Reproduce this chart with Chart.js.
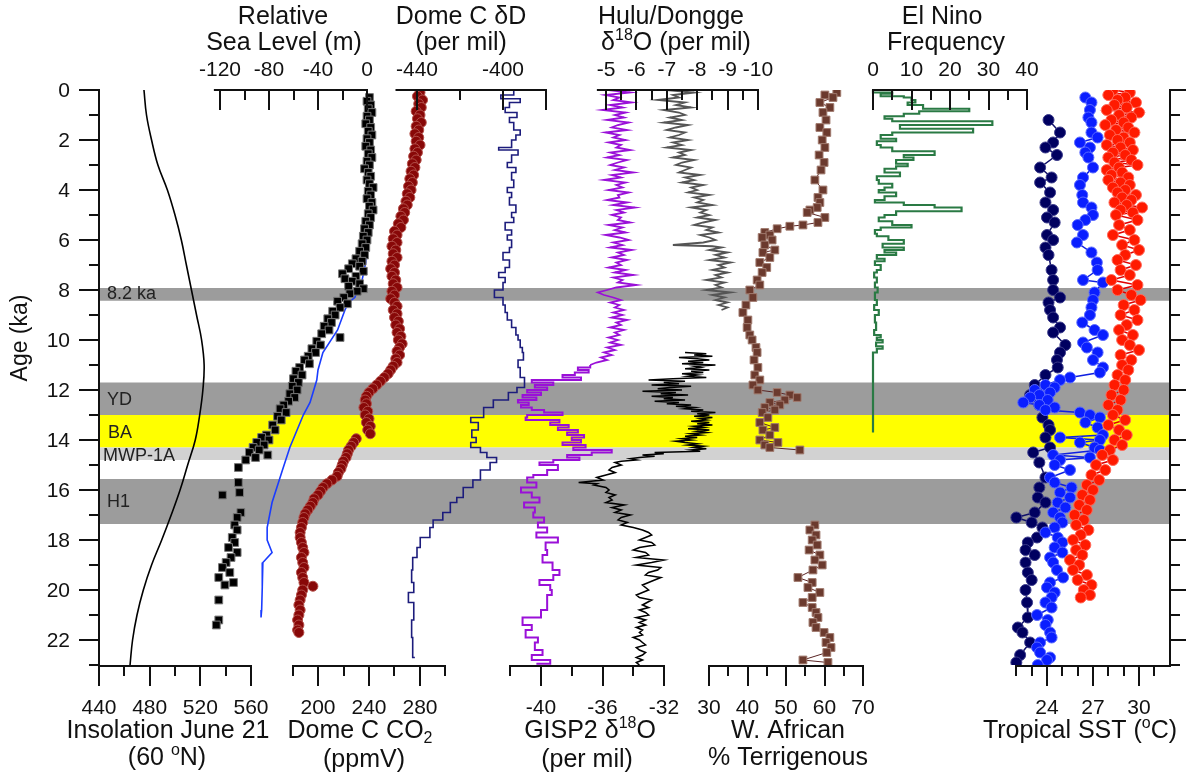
<!DOCTYPE html>
<html lang="en">
<head>
<meta charset="UTF-8">
<title>Last deglaciation records</title>
<script src="https://cdn.jsdelivr.net/npm/chart.js"></script>
<style>
  html, body { margin: 0; padding: 0; background: #fff; }
  #wrap { position: relative; width: 1186px; height: 772px; }
</style>
</head>
<body>
<div id="wrap"><canvas id="chart"></canvas></div>
<script>
// ---------------- data (age in ka, value in axis units) ----------------

// Insolation June 21, 60N (W/m2)
const insAge = [0,1,2,3,4,5,6,7,8,9,10,11,12,13,14,15,16,17,18,19,20,21,22,23];
const insVal = [475.5,477.5,481.5,486.5,494,500,505,509,513,517,521,523,522,519.5,516,510,504,497,489.5,481.5,475,470,466.5,464.5];

// relative sea level (m), black squares
const slAge = [0.3,0.45,0.6,0.75,0.9,1.05,1.2,1.35,1.5,1.65,
  1.8,1.95,2.1,2.25,2.4,2.55,2.7,2.85,3.0,3.15,
  3.3,3.45,3.6,3.75,3.9,4.05,4.2,4.35,4.5,4.65,
  4.8,4.95,5.1,5.25,5.4,5.55,5.7,5.85,6.0,6.15,
  6.3,6.45,6.6,6.75,6.85,6.95,7.05,7.15,7.25,7.35,
  7.45,7.55,7.65,7.75,7.85,7.95,8.05,8.15,8.3,8.45,
  8.55,8.7,8.85,9.0,9.15,9.3,9.45,9.6,9.75,9.9,
  10.05,10.2,10.35,10.5,10.65,10.8,10.95,11.1,11.25,11.4,
  11.55,11.7,11.85,12.0,12.15,12.3,12.45,12.6,12.75,12.9,
  13.05,13.2,13.4,13.6,13.8,13.9,14.0,14.1,14.2,14.3,
  14.4,14.5,14.6,14.7,14.8,15.1,15.7,16.1,16.2,16.9,
  17.1,17.4,17.6,17.9,18.1,18.3,18.5,18.7,18.9,19.1,
  19.3,19.5,19.7,19.8,20.4,21.2,21.4];
const slVal = [2,0,3,1,4,0,2,-1,3,1,
  4,0,2,-1,3,1,4,0,2,-2,
  1,3,0,2,5,1,3,0,4,2,
  5,1,3,-1,2,-2,1,-3,0,-4,
  -1,-6,-2,-9,-4,-12,-6,-15,-3,-20,
  -9,-18,-12,-6,-15,-3,-8,-14,-19,-24,
  -16,-22,-28,-26,-32,-29,-35,-31,-37,-22,
  -41,-38,-45,-42,-48,-51,-47,-55,-58,-53,
  -60,-56,-61,-57,-63,-59,-64,-68,-71,-66,
  -73,-70,-77,-75,-82,-86,-80,-90,-84,-93,
  -88,-96,-81,-91,-99,-105,-105,-104,-118,-103,
  -106,-108,-106,-110,-108,-113,-106,-111,-115,-118,
  -112,-121,-109,-116,-121,-121,-123];

// modelled sea level (m), blue line
const slmAge = [5.7,6.9,7.6,8.3,8.5,8.8,9.6,10.5,11.2,11.6,12.5,13.0,14.3,15.2,16.5,17.5,18.0,18.5,18.9,19.9,20.8,21.1];
const slmVal = [0,-1,-4,-10,-15,-18,-24,-36,-40,-41,-46.5,-52,-63,-69,-77.5,-81.5,-81.5,-77.5,-85,-85.5,-86,-86.5];

// Dome C CO2 (ppmV)
const co2Age = [0.1,0.25,0.4,0.55,0.7,0.85,1.0,1.15,1.3,1.45,
  1.6,1.75,1.9,2.05,2.2,2.35,2.5,2.65,2.8,2.95,
  3.1,3.25,3.4,3.55,3.7,3.85,4.0,4.15,4.3,4.45,
  4.6,4.75,4.9,5.05,5.2,5.35,5.5,5.65,5.8,5.95,
  6.1,6.25,6.4,6.55,6.7,6.85,7.0,7.15,7.3,7.45,
  7.6,7.75,7.9,8.05,8.2,8.35,8.5,8.65,8.8,8.95,
  9.1,9.25,9.4,9.55,9.7,9.85,10.0,10.15,10.3,10.45,
  10.6,10.75,10.9,11.05,11.2,11.35,11.5,11.65,11.8,11.95,
  12.1,12.25,12.4,12.55,12.7,12.85,13.0,13.15,13.3,13.45,
  13.6,13.75,13.95,14.1,14.25,14.4,14.55,14.7,14.85,15.0,
  15.15,15.3,15.45,15.6,15.75,15.9,16.05,16.2,16.35,16.5,
  16.65,16.8,16.95,17.1,17.3,17.5,17.7,17.9,18.1,18.3,
  18.5,18.7,18.9,19.1,19.3,19.5,19.7,19.85,20.0,20.2,
  20.4,20.6,20.8,21.0,21.2,21.4,21.6,21.7];
const co2Val = [280,278,282,279,281,277,280,278,281,277,
  279,276,279,277,280,276,278,275,277,274,
  276,273,275,272,274,271,273,270,272,269,
  270,267,268,265,267,263,265,260,262,259,
  262,258,261,259,262,258,260,257,260,258,
  261,259,262,258,260,257,260,262,259,262,
  260,263,261,264,262,265,263,266,264,262,
  264,261,262,259,257,255,252,249,246,243,
  240,238,237,238,236,239,237,240,238,241,
  239,241,230,228,226,224,223,222,220,219,
  218,216,215,211,207,204,202,200,197,196,
  194,192,190,189,188,187,186,186,187,188,
  189,187,188,189,187,188,189,196,188,187,
  186,185,186,185,184,185,184,185];

// Dome C deltaD (per mil)
const ddAge = [0.0,0.2,0.35,0.5,0.7,0.9,1.1,1.3,1.6,1.8,
  2.0,2.3,2.4,2.6,2.9,3.1,3.3,3.6,3.9,4.1,
  4.3,4.6,4.9,5.1,5.3,5.6,5.8,6.0,6.3,6.5,
  6.8,7.1,7.3,7.5,7.7,8.0,8.3,8.6,8.9,9.2,
  9.5,9.8,10.0,10.3,10.5,10.8,11.1,11.5,11.9,12.1,
  12.4,12.7,13.1,13.3,13.6,13.9,14.1,14.3,14.5,14.7,
  14.9,15.2,15.6,15.9,16.3,16.5,16.9,17.2,17.5,17.9,
  18.3,18.7,19.2,19.7,20.1,20.5,21.2,21.9,22.7];
const ddVal = [-395,-401,-392,-397,-399,-393.5,-397,-395,-392,-394,
  -396,-402,-393,-396,-398,-394,-396,-395,-398,-396,
  -397,-394,-396,-395,-399,-396,-398,-396,-397,-400,
  -397,-399,-402,-399,-400,-404,-400,-399,-398,-396,
  -394,-393,-392,-391,-390.5,-393,-392,-390,-393.5,-397.5,
  -404.5,-409,-415,-411.5,-414.5,-412.5,-415,-410.5,-407.5,-403,
  -406,-410.5,-414,-418.5,-421.5,-424.5,-428,-432.5,-434,-438.5,
  -440,-442,-442.5,-441.5,-444,-441.5,-442.5,-442,-441];

// GISP2 d18O (per mil), purple
const gispAge = [0.0,0.1,0.2,0.3,0.4,0.5,0.6,0.7,0.8,0.9,
  1.0,1.1,1.2,1.3,1.4,1.5,1.6,1.7,1.8,1.9,
  2.0,2.1,2.2,2.3,2.4,2.5,2.6,2.7,2.8,2.9,
  3.0,3.1,3.2,3.3,3.4,3.5,3.6,3.7,3.8,3.9,
  4.0,4.1,4.2,4.3,4.4,4.5,4.6,4.7,4.8,4.9,
  5.0,5.1,5.2,5.3,5.4,5.5,5.6,5.7,5.8,5.9,
  6.0,6.1,6.2,6.3,6.4,6.5,6.6,6.7,6.8,6.9,
  7.0,7.1,7.2,7.3,7.4,7.5,7.6,7.7,7.8,7.9,
  8.0,8.1,8.2,8.3,8.4,8.5,8.6,8.7,8.8,8.9,
  9.0,9.1,9.2,9.3,9.4,9.5,9.6,9.7,9.8,9.9,
  10.0,10.1,10.2,10.3,10.4,10.5,10.6,10.7,10.8,10.9,
  11.0,11.1,11.2,11.3,11.4,11.5,11.6,11.7,11.8,11.9,
  12.0,12.1,12.2,12.3,12.4,12.5,12.6,12.7,12.8,12.9,
  13.0,13.1,13.2,13.3,13.4,13.5,13.6,13.7,13.8,13.9,
  14.0,14.1,14.2,14.3,14.4,14.5,14.6,14.7,14.8,14.9,
  15.0,15.2,15.4,15.5,15.7,15.9,16.1,16.3,16.5,16.7,
  16.9,17.1,17.3,17.5,17.7,17.9,18.1,18.4,18.6,18.9,
  19.2,19.4,19.6,19.8,20.0,20.2,20.5,20.8,21.1,21.4,
  21.6,21.9,22.1,22.4,22.6,22.8,22.95];
const gispVal = [-35.6,-34.2,-35.8,-34.9,-35.3,-34.1,-35.5,-34.7,-36.0,-34.5,
  -35.2,-34.6,-35.7,-34.3,-35.0,-35.4,-34.4,-35.8,-34.9,-35.3,
  -34.5,-35.6,-34.8,-35.1,-34.2,-35.5,-34.9,-35.7,-34.4,-35.0,
  -35.5,-34.6,-35.2,-34.0,-35.4,-34.8,-35.9,-34.5,-35.1,-34.7,
  -35.6,-34.3,-35.0,-34.9,-35.7,-34.4,-35.3,-33.9,-35.1,-34.6,
  -35.4,-34.8,-35.0,-34.2,-35.6,-34.7,-35.2,-34.5,-35.8,-34.9,
  -34.3,-35.3,-34.7,-35.5,-34.1,-35.0,-34.6,-35.4,-34.4,-35.1,
  -34.8,-35.6,-34.5,-35.2,-34.0,-35.3,-34.7,-35.0,-33.8,-35.1,
  -35.7,-36.3,-35.9,-35.3,-34.8,-35.5,-34.9,-35.2,-34.6,-35.3,
  -34.7,-35.4,-34.4,-35.1,-34.8,-35.5,-34.6,-35.2,-34.9,-35.6,
  -35.0,-35.5,-34.8,-35.7,-35.2,-35.9,-35.4,-36.1,-35.7,-36.4,
  -36.8,-37.6,-36.9,-37.8,-38.6,-37.4,-40.6,-39.2,-40.4,-39.6,
  -40.9,-40.0,-41.2,-40.3,-41.5,-40.8,-41.3,-40.6,-39.8,-38.6,
  -40.9,-41.0,-38.8,-39.4,-38.2,-38.9,-37.6,-38.3,-37.2,-38.0,
  -37.4,-38.6,-37.1,-37.9,-35.4,-36.7,-38.3,-37.5,-39.2,-40.1,
  -38.9,-39.6,-40.5,-40.9,-40.3,-41.3,-40.6,-40.1,-41.1,-40.4,
  -40.5,-39.8,-40.2,-39.6,-40.3,-38.9,-39.7,-39.6,-39.9,-39.25,
  -38.8,-39.2,-40.1,-39.4,-39.3,-39.6,-39.6,-40.0,-41.2,-40.6,
  -41.0,-40.2,-40.4,-39.9,-40.6,-39.4,-40.3];

// Dongge d18O (per mil), grey
const dgAge = [0.0,0.1,0.2,0.3,0.4,0.5,0.6,0.7,0.8,0.9,
  1.0,1.1,1.2,1.3,1.4,1.5,1.6,1.7,1.8,1.9,
  2.0,2.1,2.2,2.3,2.4,2.5,2.6,2.7,2.8,2.9,
  3.0,3.1,3.2,3.3,3.4,3.5,3.6,3.7,3.8,3.9,
  4.0,4.1,4.2,4.3,4.4,4.5,4.6,4.7,4.8,4.9,
  5.0,5.1,5.2,5.3,5.4,5.5,5.6,5.7,5.8,5.9,
  6.0,6.1,6.2,6.25,6.3,6.4,6.5,6.6,6.7,6.8,
  6.9,7.0,7.1,7.2,7.3,7.4,7.5,7.6,7.7,7.8,
  7.9,8.0,8.1,8.2,8.3,8.4,8.5,8.6,8.7,8.8];
const dgVal = [-7.0,-7.9,-7.2,-7.4,-6.7,-7.6,-7.3,-7.8,-6.9,-7.4,
  -7.6,-7.1,-7.5,-6.9,-7.7,-7.3,-7.0,-7.6,-7.4,-7.1,
  -7.7,-7.2,-7.5,-7.0,-7.8,-7.4,-7.6,-7.2,-7.9,-7.5,
  -7.3,-7.8,-7.6,-7.4,-8.1,-7.6,-7.9,-7.5,-8.2,-7.8,
  -8.0,-7.7,-8.4,-7.9,-8.2,-8.0,-8.5,-7.8,-8.3,-8.1,
  -8.4,-8.0,-8.6,-8.2,-7.9,-8.5,-8.3,-8.7,-8.1,-8.4,
  -8.6,-8.2,-7.2,-8.5,-8.8,-8.4,-9.0,-8.6,-8.9,-8.4,
  -9.1,-8.7,-8.9,-8.5,-9.0,-8.6,-8.8,-8.3,-8.9,-8.6,
  -8.8,-8.3,-9.1,-8.5,-8.9,-8.6,-9.0,-8.7,-9.0,-8.8];

// Hulu d18O (per mil), black
const huAge = [10.5,10.55,10.6,10.65,10.7,10.75,10.8,10.85,10.9,10.95,
  11.0,11.05,11.1,11.15,11.2,11.25,11.3,11.35,11.4,11.45,
  11.5,11.55,11.6,11.65,11.7,11.75,11.8,11.85,11.9,11.95,
  12.0,12.05,12.1,12.15,12.2,12.25,12.3,12.35,12.4,12.45,
  12.5,12.55,12.6,12.65,12.7,12.75,12.8,12.85,12.9,12.95,
  13.0,13.05,13.1,13.15,13.2,13.25,13.3,13.35,13.4,13.45,
  13.5,13.55,13.6,13.65,13.7,13.75,13.8,13.85,13.9,13.95,
  14.0,14.05,14.1,14.15,14.2,14.25,14.3,14.35,14.4,14.45,
  14.5,14.55,14.6,14.65,14.7,14.75,14.8,14.85,14.9,15.0,
  15.1,15.2,15.3,15.4,15.5,15.6,15.7,15.75,15.8,15.9,
  16.0,16.1,16.2,16.3,16.4,16.5,16.6,16.7,16.8,16.9,
  17.0,17.1,17.2,17.3,17.4,17.5,17.6,17.7,17.8,17.9,
  18.0,18.1,18.2,18.3,18.4,18.5,18.6,18.7,18.8,18.9,
  19.0,19.1,19.2,19.3,19.4,19.5,19.6,19.7,19.8,19.9,
  20.0,20.1,20.2,20.3,20.4,20.5,20.6,20.7,20.8,20.9,
  21.0,21.1,21.2,21.3,21.4,21.5,21.6,21.7,21.8,21.9,
  22.0,22.1,22.2,22.3,22.4,22.5,22.6,22.7,22.8,22.9,
  23.0];
const huVal = [-7.6,-8.3,-7.9,-8.5,-7.4,-8.0,-8.4,-7.7,-8.2,-7.5,
  -8.6,-7.9,-8.1,-7.6,-8.4,-7.8,-8.2,-7.5,-8.0,-7.7,
  -8.3,-7.2,-6.4,-7.6,-6.9,-7.4,-6.5,-7.8,-7.1,-6.7,
  -7.5,-6.2,-7.3,-6.8,-7.7,-6.5,-7.2,-6.9,-7.6,-6.6,
  -7.4,-7.0,-7.8,-7.3,-7.9,-7.6,-8.2,-7.8,-8.6,-8.0,
  -8.4,-7.9,-8.5,-8.1,-8.3,-7.8,-8.4,-8.0,-8.5,-7.9,
  -8.2,-7.7,-8.4,-8.0,-8.3,-7.8,-8.1,-7.6,-8.0,-7.5,
  -7.8,-7.3,-7.6,-8.0,-7.7,-8.2,-7.9,-8.3,-7.8,-8.1,
  -6.6,-6.9,-6.2,-6.6,-6.1,-5.8,-6.0,-5.5,-5.3,-5.5,
  -5.2,-5.1,-5.3,-5.0,-4.7,-4.9,-4.1,-4.7,-4.6,-5.0,
  -5.1,-5.0,-5.3,-5.1,-5.2,-5.0,-5.6,-5.2,-5.5,-5.3,
  -5.8,-5.5,-5.4,-5.7,-5.5,-5.9,-6.2,-6.4,-6.5,-6.3,
  -6.1,-6.5,-6.6,-6.1,-5.9,-6.3,-6.4,-6.0,-6.9,-6.5,
  -6.0,-6.8,-6.7,-6.4,-6.3,-6.8,-6.6,-6.4,-6.2,-6.3,
  -6.4,-6.2,-6.0,-6.1,-6.5,-6.35,-6.2,-6.4,-6.1,-6.3,
  -6.4,-6.0,-6.3,-6.1,-6.3,-6.0,-6.2,-6.1,-6.2,-5.9,
  -6.1,-6.2,-6.3,-6.0,-6.1,-6.3,-6.2,-6.0,-6.2,-6.0,
  -6.1];

// W. African % terrigenous, two sections
const waAge1 = [0.1,0.2,0.3,0.5,0.7,0.9,1.2,1.5,1.7,2.0,
  2.3,2.6,2.9,3.2,3.6,4.0,4.3,4.5,4.7,4.8,
  4.9,5.1,5.3,5.4,5.45,5.55,5.7,5.8,5.9,6.0,
  6.2,6.4,6.5,6.7,6.9,7.1,7.3,7.6,7.8,8.0,
  8.3,8.6,8.9,9.2,9.5,9.8,10.0,10.3,10.5,10.8,
  11.1,11.4,11.6,11.8,12.0,12.1,12.2,12.3,12.4,12.5,
  12.6,12.7,12.8,12.9,13.1,13.3,13.5,13.6,13.8,14.0,
  14.1,14.2,14.3,14.4];
const waVal1 = [63.2,60.1,62.2,58.8,61.4,59.6,60.4,58.8,60.6,59.4,
  60.1,58.6,59.9,59.1,57.5,59.6,58.3,58.8,58.1,56.2,
  55.5,60.1,58.3,54.4,51,47.7,44.5,45.8,43.8,46.4,
  44.5,47.1,44,45.8,43.2,45,43.8,42.5,43.2,40.6,
  41.4,39.6,38.8,40.1,39.9,40.6,41.2,42.2,42.5,41.7,
  42.7,41.9,43.2,41.4,42.7,47.7,51,52.9,49.7,45.8,
  48.4,44.5,47.1,43.8,45.3,43.2,47.1,44,45.8,43.2,
  47.9,44.5,45.8,53.6];
const waAge2 = [17.4,17.6,17.8,18.0,18.2,18.4,18.6,18.8,19.0,19.2,
  19.5,19.7,19.9,20.1,20.3,20.5,20.7,20.9,21.1,21.3,
  21.5,21.7,21.9,22.1,22.3,22.5,22.8,22.9];
const waVal2 = [57.5,56.2,57.8,56.8,58.1,56,58.8,57.5,59.4,57,
  53.1,56.8,55.7,58.8,56.8,54.4,56.8,57.8,58.3,57,
  57.8,59.9,61.4,60.4,61.7,60.6,54.4,60.9];

// El Nino frequency (events per 100 yr), green steps
const ensoAge = [0,0.1,0.15,0.25,0.3,0.4,0.5,0.6,0.75,0.85,
  0.95,1.05,1.15,1.25,1.4,1.55,1.7,1.8,1.95,2.05,
  2.2,2.3,2.45,2.6,2.7,2.8,2.95,3.05,3.15,3.3,
  3.45,3.6,3.75,3.9,4.0,4.1,4.25,4.4,4.5,4.6,
  4.7,4.85,5.0,5.1,5.25,5.4,5.5,5.6,5.75,5.85,
  6.0,6.15,6.3,6.4,6.5,6.6,6.75,6.85,7.0,7.2,
  7.3,7.5,7.7,7.9,8.1,8.4,8.6,8.8,9.0,9.3,
  9.6,9.8,9.9,10.0,10.1,10.25,10.35,10.5,13.7];
const ensoVal = [0,5,2,8,10,11,9,13,25,12,
  8,3,5,31,7,26,5,2,6,1,
  2,5,16,8,10.5,6,9,6,3,7,
  1,1.5,5,3,1.5,6,3,0.5,8,16,
  23,6,3,1.5,5,10,2,0.5,1,4,
  8,2.5,8,3,6,1,3,0.5,2,1,
  0.3,1,0.5,1.2,0.5,1,0.3,1.5,0.5,0.8,
  0.3,2,1,2.5,0.8,2.5,1,0,0];

// tropical SST (deg C): navy, blue and red records
const sstNAge = [1.2,1.7,2.1,2.3,2.6,3.1,3.5,3.7,4.1,4.5,
  4.8,5.1,5.3,5.8,6.0,6.3,6.6,7.2,7.6,8.0,
  8.3,8.5,8.8,9.1,9.5,9.7,10.2,10.5,10.8,11.1,
  11.4,11.8,12.2,12.6,13.1,13.4,13.6,13.9,14.3,14.5,
  14.9,15.5,15.9,16.3,16.5,16.9,17.1,17.3,17.5,17.9,
  18.1,18.4,18.6,18.9,19.3,19.6,20.0,20.5,21.1,21.5,
  21.7,22.1,22.6,22.9];
const sstNVal = [24.1,24.85,24.4,23.9,24.65,23.55,24.3,23.55,24.2,23.9,
  24.4,24.0,24.5,24.0,24.4,23.9,24.1,24.3,24.4,24.4,
  24.85,24.1,24.2,24.4,24.85,24.4,25.2,24.85,24.65,24.7,
  23.9,23.2,22.9,23.5,23.7,24.1,24.2,23.9,24.2,23.1,
  23.5,23.9,23.5,23.4,23.9,23.2,22.0,23.0,23.7,23.35,
  22.75,22.6,23.2,22.6,22.75,23.0,22.6,22.7,22.75,22.1,
  22.4,22.9,22.25,22.0];
const sstBAge = [0.3,0.5,0.8,1.1,1.3,1.7,1.9,2.1,2.3,2.5,
  2.7,3.1,3.5,3.8,4.2,4.5,4.7,5.0,5.2,5.4,
  5.8,6.1,6.5,6.9,7.2,7.6,7.7,8.1,8.4,8.7,
  9.0,9.3,9.6,9.8,10.1,10.3,10.5,10.8,11.1,11.3,
  11.5,11.6,11.8,11.9,12.0,12.1,12.2,12.3,12.4,12.5,
  12.6,12.7,12.8,12.9,13.0,13.1,13.3,13.5,13.8,13.9,
  14.0,14.1,14.3,14.4,14.6,14.7,14.8,15.0,15.2,15.5,
  15.7,15.9,16.1,16.3,16.5,16.7,16.9,17.1,17.3,17.5,
  17.7,17.9,18.1,18.3,18.5,18.7,18.9,19.2,19.5,19.7,
  19.9,20.1,20.3,20.5,20.7,21.0,21.2,21.4,21.7,21.9,
  22.1,22.3,22.5,22.7,22.8,23.0];
const sstBVal = [26.5,26.9,26.8,26.7,26.9,26.9,27.3,26.15,26.8,26.5,
  26.7,27.0,26.35,26.15,26.3,26.35,26.9,27.0,26.5,26.0,
  26.35,25.95,26.9,27.25,27.3,26.35,27.65,27.1,27.0,26.9,
  26.8,26.3,27.1,27.65,26.35,26.6,27.3,27.0,27.65,27.45,
  25.5,24.85,23.9,24.5,23.2,24.2,23.5,22.9,24.05,22.45,
  23.5,24.5,23.9,26.15,26.8,27.45,26.5,27.3,27.65,24.85,
  27.45,26.15,27.1,27.45,24.4,26.8,24.85,24.5,25.5,24.2,
  24.5,25.6,24.85,25.5,24.7,25.2,24.4,24.85,25.0,24.5,
  23.9,24.7,25.0,24.5,25.0,24.2,24.4,24.65,25.05,24.2,
  24.0,24.5,24.3,23.9,24.3,23.35,24.05,23.9,24.2,24.3,
  23.55,23.35,23.55,24.2,24.0,23.4];
const sstRAge = [0.0,0.1,0.2,0.3,0.4,0.5,0.6,0.7,0.8,0.9,
  1.0,1.1,1.2,1.3,1.4,1.5,1.6,1.7,1.8,1.9,
  2.0,2.1,2.2,2.3,2.4,2.5,2.6,2.7,2.8,2.9,
  3.0,3.1,3.2,3.3,3.4,3.5,3.6,3.7,3.8,3.9,
  4.0,4.1,4.2,4.3,4.4,4.5,4.6,4.7,4.8,4.9,
  5.0,5.2,5.4,5.6,5.8,6.0,6.2,6.4,6.6,6.8,
  7.0,7.2,7.4,7.6,7.8,8.0,8.2,8.4,8.6,8.8,
  9.0,9.2,9.4,9.6,9.8,10.0,10.2,10.4,10.6,10.8,
  11.0,11.2,11.4,11.6,11.8,12.0,12.2,12.4,12.6,12.8,
  13.0,13.2,13.4,13.6,13.8,14.0,14.2,14.4,14.6,14.8,
  15.0,15.2,15.4,15.6,15.8,16.0,16.2,16.4,16.6,16.8,
  17.0,17.2,17.4,17.6,17.8,18.0,18.2,18.4,18.6,18.8,
  19.0,19.2,19.4,19.6,19.8,20.0,20.2,20.3];
const sstRVal = [28.3,29.4,28.0,29.1,28.6,29.8,28.4,29.2,27.9,30.0,
  28.7,29.5,28.2,29.0,27.8,29.3,28.5,29.7,28.1,29.0,
  28.6,29.4,27.9,28.8,29.6,28.3,29.1,28.0,29.5,28.4,
  29.9,28.7,27.9,28.9,28.2,29.3,28.0,28.8,29.4,28.3,
  29.1,28.6,29.8,28.9,29.5,28.4,29.2,30.2,28.8,29.6,
  28.5,29.9,28.7,29.4,28.3,29.7,28.9,30.0,29.1,28.6,
  29.8,28.8,29.4,28.2,29.9,28.6,29.5,30.1,29.0,29.7,
  28.8,29.9,29.2,28.7,29.6,28.9,29.4,30.0,28.8,29.5,
  28.9,29.3,28.6,29.1,28.4,29.0,28.2,28.8,28.0,28.6,
  28.3,29.1,28.0,28.7,29.2,28.4,28.9,28.1,27.6,28.3,
  27.2,27.8,26.9,27.4,26.6,27.0,26.3,26.8,26.1,26.6,
  25.8,26.4,25.9,26.7,26.2,25.7,26.5,25.9,26.3,25.5,
  26.1,25.7,26.6,26.0,26.9,26.4,26.8,26.2];

// climate event bands (ka)
const bandText = ['8.2 ka', 'YD', 'BA', 'MWP-1A', 'H1'];
const bandFrom = [7.92, 11.7, 13.0, 14.3, 15.56];
const bandTo   = [8.43, 13.0, 14.3, 14.8, 17.36];

// age axis ticks
const ageTicks = [0,1,2,3,4,5,6,7,8,9,10,11,12,13,14,15,16,17,18,19,20,21,22,23];
const ageLabels = [0,2,4,6,8,10,12,14,16,18,20,22];

// ---------------- layout ----------------
const PLOT = { left: 99, right: 1170, top: 90, bottom: 665 };
const FONT = '"Liberation Sans", Arial, Helvetica, sans-serif';

// each x axis runs over the whole plot width; two anchor values fix where its ticks fall
function spanAxis(v1, p1, v2, p2) {
  const s = (v2 - v1) / (p2 - p1);
  const a = v1 + (PLOT.left - p1) * s;
  const b = v1 + (PLOT.right - p1) * s;
  const base = { type: 'linear', display: false };
  return a < b ? Object.assign(base, { min: a, max: b }) : Object.assign(base, { min: b, max: a, reverse: true });
}

const axisMarks = [
  { id: 'xSea',  side: 'top', from: -125, to: 0, ticks: [-120,-100,-80,-60,-40,-20,0], major: [-120,-80,-40,0], labels: [-120,-80,-40,0] },
  { id: 'xDD',   side: 'top', from: -450, to: -380, ticks: [-440,-420,-400,-380], major: [-440,-400,-380], labels: [-440,-400] },
  { id: 'xHulu', side: 'top', from: -4.7, to: -10, ticks: [-5,-5.5,-6,-6.5,-7,-7.5,-8,-8.5,-9,-9.5,-10], major: [-5,-6,-7,-8,-9,-10], labels: [-5,-6,-7,-8,-9,-10] },
  { id: 'xEnso', side: 'top', from: 0, to: 40, ticks: [0,5,10,15,20,25,30,35,40], major: [0,10,20,30,40], labels: [0,10,20,30,40] },
  { id: 'xIns',  side: 'bottom', from: 440, to: 560, ticks: [440,460,480,500,520,540,560], major: [440,480,520,560], labels: [440,480,520,560] },
  { id: 'xCO2',  side: 'bottom', from: 180, to: 300, ticks: [180,200,220,240,260,280,300], major: [200,240,280], labels: [200,240,280] },
  { id: 'xGisp', side: 'bottom', from: -42, to: -32, ticks: [-42,-40,-38,-36,-34,-32], major: [-40,-36,-32], labels: [-40,-36,-32] },
  { id: 'xWaf',  side: 'bottom', from: 30, to: 70, ticks: [30,35,40,45,50,55,60,65,70], major: [30,40,50,60,70], labels: [30,40,50,60,70] },
  { id: 'xSst',  side: 'bottom', from: 22, to: 32, ticks: [22,23,24,25,26,27,28,29,30,31], major: [24,27,30], labels: [24,27,30] }
];

const titles = [
  { x: 283, y: 17, parts: [{ t: 'Relative' }] },
  { x: 284, y: 43, parts: [{ t: 'Sea Level (m)' }] },
  { x: 461, y: 17, parts: [{ t: 'Dome C \u03b4D' }] },
  { x: 461, y: 43, parts: [{ t: '(per mil)' }] },
  { x: 671, y: 17, parts: [{ t: 'Hulu/Dongge' }] },
  { x: 676, y: 43, parts: [{ t: '\u03b4' }, { t: '18', s: 'sup' }, { t: 'O (per mil)' }] },
  { x: 942, y: 17, parts: [{ t: 'El Nino' }] },
  { x: 946, y: 43, parts: [{ t: 'Frequency' }] },
  { x: 168, y: 731, parts: [{ t: 'Insolation June 21' }] },
  { x: 167, y: 758, parts: [{ t: '(60 ' }, { t: 'o', s: 'sup' }, { t: 'N)' }] },
  { x: 360, y: 731, parts: [{ t: 'Dome C CO' }, { t: '2', s: 'sub' }] },
  { x: 364, y: 760, parts: [{ t: '(ppmV)' }] },
  { x: 590, y: 731, parts: [{ t: 'GISP2 \u03b4' }, { t: '18', s: 'sup' }, { t: 'O' }] },
  { x: 587, y: 760, parts: [{ t: '(per mil)' }] },
  { x: 788, y: 731, parts: [{ t: 'W. African' }] },
  { x: 788, y: 758, parts: [{ t: '% Terrigenous' }] },
  { x: 1080, y: 731, parts: [{ t: 'Tropical SST (' }, { t: 'o', s: 'sup' }, { t: 'C)' }] }
];

function pts(ages, vals) {
  return ages.map((a, i) => ({ x: vals[i], y: a }));
}

// GISP2: dense Holocene part drawn as a plain line, glacial part as steps
const gispPts = pts(gispAge, gispVal);
const gispHolo = gispPts.filter(p => p.y <= 11.0);
const gispGlac = gispPts.filter(p => p.y >= 11.0);

function drawRich(ctx, parts, cx, cy, size) {
  const big = size + 'px ' + FONT;
  const small = Math.round(size * 0.62) + 'px ' + FONT;
  let w = 0;
  parts.forEach(p => { ctx.font = p.s ? small : big; p.w = ctx.measureText(p.t).width; w += p.w; });
  let x = cx - w / 2;
  ctx.textAlign = 'left';
  ctx.textBaseline = 'middle';
  parts.forEach(p => {
    ctx.font = p.s ? small : big;
    const dy = p.s === 'sup' ? -size * 0.3 : (p.s === 'sub' ? size * 0.32 : 0);
    ctx.fillText(p.t, x, cy + dy);
    x += p.w;
  });
}

function seg(ctx, x0, y0, x1, y1) {
  ctx.beginPath(); ctx.moveTo(x0, y0); ctx.lineTo(x1, y1); ctx.stroke();
}

const decor = {
  id: 'decor',
  beforeDatasetsDraw(chart) {
    const { ctx, chartArea: a } = chart;
    const y = chart.scales.y;
    ctx.save();
    const fills = ['#9c9c9c', '#9c9c9c', '#ffff00', '#d2d2d2', '#9c9c9c'];
    bandFrom.forEach((f, i) => {
      const y0 = y.getPixelForValue(f), y1 = y.getPixelForValue(bandTo[i]);
      ctx.fillStyle = fills[i];
      ctx.fillRect(a.left, y0, a.right - a.left, y1 - y0);
    });
    ctx.fillStyle = '#222';
    ctx.font = '18px ' + FONT;
    ctx.textAlign = 'left';
    ctx.textBaseline = 'middle';
    const tx = [107, 107, 108, 103, 107];
    const tAge = [8.16, 12.4, 13.72, 14.64, 16.48];
    bandText.forEach((t, i) => ctx.fillText(t, tx[i], y.getPixelForValue(tAge[i])));
    ctx.restore();
  },
  afterDraw(chart) {
    const { ctx } = chart;
    const y = chart.scales.y;
    const top = PLOT.top, bot = PLOT.bottom + 1;
    ctx.save();
    ctx.strokeStyle = '#111';
    ctx.fillStyle = '#111';
    ctx.lineWidth = 2;

    // age axes, left and right
    seg(ctx, PLOT.left, top - 1, PLOT.left, bot + 1);
    seg(ctx, PLOT.right, top - 1, PLOT.right, bot + 1);
    ageTicks.forEach(t => {
      const py = Math.round(y.getPixelForValue(t));
      const len = t % 2 === 0 ? 20 : 10;
      seg(ctx, PLOT.left - len, py, PLOT.left, py);
      seg(ctx, PLOT.right, py, PLOT.right + len, py);
    });
    ctx.font = '21px ' + FONT;
    ctx.textAlign = 'right';
    ctx.textBaseline = 'middle';
    ageLabels.forEach(t => ctx.fillText(String(t), 70, y.getPixelForValue(t) + 1));

    ctx.save();
    ctx.translate(21, 338);
    ctx.rotate(-Math.PI / 2);
    ctx.textAlign = 'center';
    ctx.font = '23px ' + FONT;
    ctx.fillText('Age (ka)', 0, 0);
    ctx.restore();

    // partial x axes
    axisMarks.forEach(m => {
      const sc = chart.scales[m.id];
      const yl = m.side === 'top' ? top : bot;
      seg(ctx, sc.getPixelForValue(m.from), yl, sc.getPixelForValue(m.to), yl);
      m.ticks.forEach(t => {
        const px = Math.round(sc.getPixelForValue(t));
        const len = m.major.includes(t) ? 20 : 10;
        seg(ctx, px, yl - 1, px, yl + len);
      });
      ctx.font = '21px ' + FONT;
      ctx.textAlign = 'center';
      ctx.textBaseline = 'middle';
      const ly = m.side === 'top' ? 70 : 708;
      m.labels.forEach(t => ctx.fillText(String(t), sc.getPixelForValue(t), ly));
    });

    titles.forEach(t => drawRich(ctx, t.parts, t.x, t.y, 25));
    ctx.restore();
  }
};

const lineSet = (label, axis, data, color, width, extra) => Object.assign({
  label, xAxisID: axis, data, showLine: true, pointRadius: 0,
  borderColor: color, borderWidth: width, backgroundColor: color
}, extra || {});

const dotSet = (label, axis, data, style, r, fill, edge, extra) => Object.assign({
  label, xAxisID: axis, data, showLine: false, pointStyle: style, pointRadius: r,
  backgroundColor: fill, pointBorderColor: edge, pointBorderWidth: 1, borderColor: fill
}, extra || {});

new Chart(document.getElementById('chart'), {
  type: 'scatter',
  data: {
    datasets: [
      dotSet('SST red', 'xSst', pts(sstRAge, sstRVal), 'circle', 5.5, '#ff1a00', '#ff6a5a', { showLine: true, borderWidth: 1.5, borderColor: '#e00000' }),
      dotSet('SST blue', 'xSst', pts(sstBAge, sstBVal), 'circle', 5.5, '#0a1eff', '#5a6aff', { showLine: true, borderWidth: 1.5, borderColor: '#1020e0' }),
      dotSet('SST navy', 'xSst', pts(sstNAge, sstNVal), 'circle', 5.5, '#000060', '#3a3a8a', { showLine: true, borderWidth: 1.5, borderColor: '#10106a' }),
      lineSet('El Nino frequency', 'xEnso', pts(ensoAge, ensoVal), '#2a7a44', 2.2, { stepped: 'after' }),
      dotSet('W. African terrigenous', 'xWaf', pts(waAge1, waVal1), 'rect', 5.5, '#6b3a2e', '#a07a6e', { showLine: true, borderWidth: 1, borderColor: '#5a2424' }),
      dotSet('W. African terrigenous (LGM)', 'xWaf', pts(waAge2, waVal2), 'rect', 5.5, '#6b3a2e', '#a07a6e', { showLine: true, borderWidth: 1, borderColor: '#5a2424' }),
      lineSet('Hulu', 'xHulu', pts(huAge, huVal), '#000', 1.6),
      lineSet('Dongge', 'xHulu', pts(dgAge, dgVal), '#555', 1.8),
      lineSet('GISP2 Holocene', 'xGisp', gispHolo, '#9a10d8', 1.8),
      lineSet('GISP2 glacial', 'xGisp', gispGlac, '#9a10d8', 2, { stepped: 'after' }),
      lineSet('Dome C dD', 'xDD', pts(ddAge, ddVal), '#1c1c7c', 1.6, { stepped: 'after' }),
      dotSet('Dome C CO2', 'xCO2', pts(co2Age, co2Val), 'circle', 5, '#880808', '#b4504a'),
      dotSet('Sea level', 'xSea', pts(slAge, slVal), 'rect', 5.5, '#000', '#777'),
      lineSet('Sea level model', 'xSea', pts(slmAge, slmVal), '#1a3cff', 1.6),
      lineSet('Insolation', 'xIns', pts(insAge, insVal), '#000', 1.6, { tension: 0.4 })
    ]
  },
  options: {
    responsive: true,
    maintainAspectRatio: false,
    animation: false,
    events: [],
    layout: { padding: { left: PLOT.left, right: 1186 - PLOT.right, top: PLOT.top, bottom: 772 - PLOT.bottom } },
    plugins: { legend: { display: false }, tooltip: { enabled: false } },
    scales: {
      y: { type: 'linear', display: false, min: 0, max: 23, reverse: true },
      xIns: spanAxis(440, 99, 560, 251),
      xSea: spanAxis(-120, 220, 0, 367),
      xCO2: spanAxis(200, 318, 280, 420),
      xDD: spanAxis(-440, 417, -400, 503),
      xGisp: spanAxis(-40, 541, -32, 664),
      xHulu: spanAxis(-5, 606, -10, 758),
      xWaf: spanAxis(30, 709, 70, 863),
      xEnso: spanAxis(0, 873, 40, 1027),
      xSst: spanAxis(24, 1047, 30, 1139)
    }
  },
  plugins: [decor]
});
</script>
</body>
</html>
